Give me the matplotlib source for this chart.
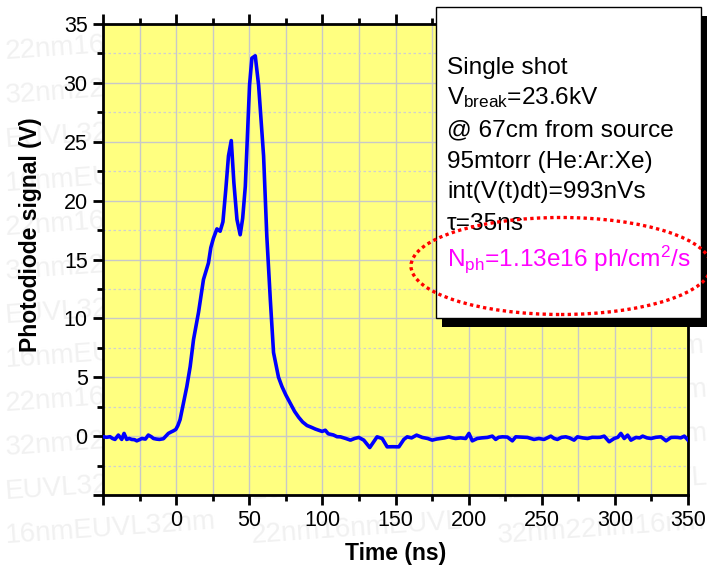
import matplotlib.pyplot as plt
from matplotlib.patches import Rectangle, Ellipse

plt.rcParams['font.family'] = ['Liberation Sans', 'DejaVu Sans']
plt.rcParams['mathtext.fontset'] = 'custom'
plt.rcParams['mathtext.rm'] = 'Liberation Sans'
plt.rcParams['mathtext.default'] = 'regular'

# photodiode trace
time_ns = [-50, -47.5, -45.2, -43.5, -41.8, -39.5, -37.2, -35.6, -33.8, -32,
           -30.4, -28.5, -26.9, -25, -23.5, -21, -19, -17, -15.5, -13.5,
           -11.4, -8.7, -7, -5.3, -3.5, -1.8, -0.2, 1.2, 2.7, 5.0,
           7.3, 9.6, 11.9, 15.3, 18.7, 22.1, 23.7, 25.5, 27.9, 30.1,
           32.0, 34.0, 35.8, 37.7, 39.5, 41.6, 43.8, 45.5, 47.3, 50.2,
           51.8, 54.1, 56.4, 59.8, 62.0, 64.4, 66.6, 70.0, 72.4, 75.0,
           78.0, 81.0, 83.8, 86.5, 89.5, 92.5, 95.2, 97.5, 99.8, 102,
           104, 107.5, 110, 112.3, 116, 119.2, 122, 124.9, 128.3, 132.4,
           135, 137.4, 140.9, 144.3, 148, 152.3, 155.7, 158, 161, 164.4,
           168.3, 172, 175.1, 178, 180.8, 183.5, 186.5, 189, 191.1, 194.5,
           198, 200.2, 202.5, 205.9, 209, 212.8, 216.2, 218.5, 220.5, 223.1,
           226.5, 229.9, 232.2, 236, 240.2, 244.7, 248, 251.6, 256.2, 258.5,
           260.7, 263.5, 266.4, 269, 272.1, 274.4, 278, 281.3, 284.5, 288.1,
           290, 292.7, 296.1, 299.5, 302, 304.1, 306.4, 308.7, 311, 314.4,
           317, 319, 322, 324.7, 328, 331.5, 335, 338.4, 341, 343,
           345, 347.5, 350]
signal_v = [-0.05, -0.1, -0.05, -0.2, -0.28, 0.09, -0.28, 0.23, -0.28, -0.2,
            -0.28, -0.3, -0.4, -0.3, -0.2, -0.25, 0.09, -0.05, -0.2, -0.25,
            -0.28, -0.22, 0.0, 0.23, 0.35, 0.45, 0.57, 0.9, 1.4, 2.8,
            4.2, 5.9, 8.2, 10.5, 13.3, 14.7, 16.0, 16.8, 17.6, 17.4,
            18.2, 21.0, 23.8, 25.1, 21.5, 18.4, 17.1, 18.5, 21.2, 29.8,
            32.1, 32.3, 29.8, 23.8, 17.0, 11.6, 7.1, 5.0, 4.2, 3.5,
            2.8, 2.1, 1.6, 1.2, 0.9, 0.75, 0.6, 0.5, 0.4, 0.5,
            0.2, 0.1, -0.05, -0.06, -0.2, -0.34, -0.2, -0.11, -0.34, -0.97,
            -0.5, -0.06, -0.2, -0.91, -0.9, -0.91, -0.28, -0.06, -0.15, 0.085,
            -0.11, -0.2, -0.34, -0.25, -0.2, -0.15, -0.06, -0.15, -0.2, -0.15,
            -0.2, 0.23, -0.4, -0.2, -0.15, -0.11, 0.0, -0.28, -0.1, -0.06,
            -0.08, -0.4, -0.06, -0.08, -0.11, -0.28, -0.2, -0.28, 0.0, -0.2,
            -0.28, -0.1, -0.06, -0.15, -0.34, -0.06, -0.15, -0.2, -0.1, -0.11,
            -0.1, 0.0, -0.48, -0.2, -0.1, 0.23, -0.2, 0.085, -0.34, -0.11,
            -0.15, 0.0, -0.15, -0.2, -0.1, -0.06, -0.4, -0.11, -0.1, -0.11,
            -0.15, 0.0, -0.34]

xticks = [-50, 0, 50, 100, 150, 200, 250, 300, 350]
xtick_labels = ['', '0', '50', '100', '150', '200', '250', '300', '350']
xminor = [-25, 25, 75, 125, 175, 225, 275, 325]
yticks = [-5, 0, 5, 10, 15, 20, 25, 30, 35]
ytick_labels = ['', '0', '5', '10', '15', '20', '25', '30', '35']
yminor = [-2.5, 2.5, 7.5, 12.5, 17.5, 22.5, 27.5, 32.5]

note_lines = ['Single shot',
              r'V$_{break}$=23.6kV',
              '@ 67cm from source',
              '95mtorr (He:Ar:Xe)',
              'int(V(t)dt)=993nVs',
              'τ=35ns',
              r'N$_{ph}$=1.13e16 ph/cm$^2$/s']
note_colors = ['black'] * 6 + ['#ff00ff']
note_baselines = [74, 104, 136, 168, 198, 230, 266]  # pixels from top

watermark = ['22nm16nmEUVL', '32nm22nm16nm', 'EUVL32nm22nm', '16nmEUVL32nm']

W, H = 707, 574
fig = plt.figure(figsize=(W / 100, H / 100), dpi=100)

# faint background watermark (kept inside the figure)
for i, yy in enumerate(range(45, 560, 44)):
    for j, xx in enumerate([4, 250, 496]):
        fig.text(xx / W, 1 - yy / H, watermark[(i + j) % 4], fontsize=20,
                 color='#f1f1f1', rotation=4, va='center', ha='left',
                 zorder=-5)

ax = fig.add_axes([103 / W, 1 - 495 / H, 585 / W, 471 / H])
ax.set_facecolor('#ffff80')
ax.plot(time_ns, signal_v, color='#0000ff', lw=2.6, zorder=3)

ax.set_xlim(-50, 350)
ax.set_ylim(-5, 35)
ax.set_xticks(xticks)
ax.set_xticklabels(xtick_labels)
ax.set_xticks(xminor, minor=True)
ax.set_yticks(yticks)
ax.set_yticklabels(ytick_labels)
ax.set_yticks(yminor, minor=True)

ax.grid(which='both', axis='x', color='#c8c8c8', lw=1)
ax.grid(which='major', axis='y', color='#c8c8c8', lw=1)
ax.grid(which='minor', axis='y', color='#d0d0d0', lw=0.9, ls=(0, (2, 2)))
ax.set_axisbelow(True)

ax.tick_params(which='both', direction='out', top=True, right=False,
               width=2, labelsize=15.5, pad=4)
ax.tick_params(which='major', length=7)
ax.tick_params(which='minor', length=4)
for s in ax.spines.values():
    s.set_linewidth(2)

ax.set_xlabel('Time (ns)', fontsize=16.5, fontweight='bold')
ax.set_ylabel('Photodiode signal (V)', fontsize=16.5, fontweight='bold')
ax.xaxis.set_label_coords(0.5, -0.1)
ax.yaxis.set_label_coords(-0.105, 0.552)

# annotation box with shadow, in figure pixels
bx0, by0, bx1, by1 = 436, 7, 701, 318
fig.add_artist(Rectangle(((bx0 + 6) / W, 1 - (by1 + 9) / H), (bx1 - bx0) / W,
                         (by1 - by0) / H, transform=fig.transFigure,
                         facecolor='black', edgecolor='none', zorder=5))
fig.add_artist(Rectangle((bx0 / W, 1 - by1 / H), (bx1 - bx0) / W,
                         (by1 - by0) / H, transform=fig.transFigure,
                         facecolor='white', edgecolor='black', lw=1, zorder=6))

for txt, col, b in zip(note_lines, note_colors, note_baselines):
    fig.text(447 / W, 1 - b / H, txt, fontsize=17.6, color=col,
             va='baseline', ha='left', zorder=7)

fig.add_artist(Ellipse((561 / W, 1 - 266 / H), 300 / W, 97 / H,
                       transform=fig.transFigure, fill=False, edgecolor='red',
                       lw=2.4, ls=(0, (1, 1)), zorder=8))

plt.savefig('out.png')
